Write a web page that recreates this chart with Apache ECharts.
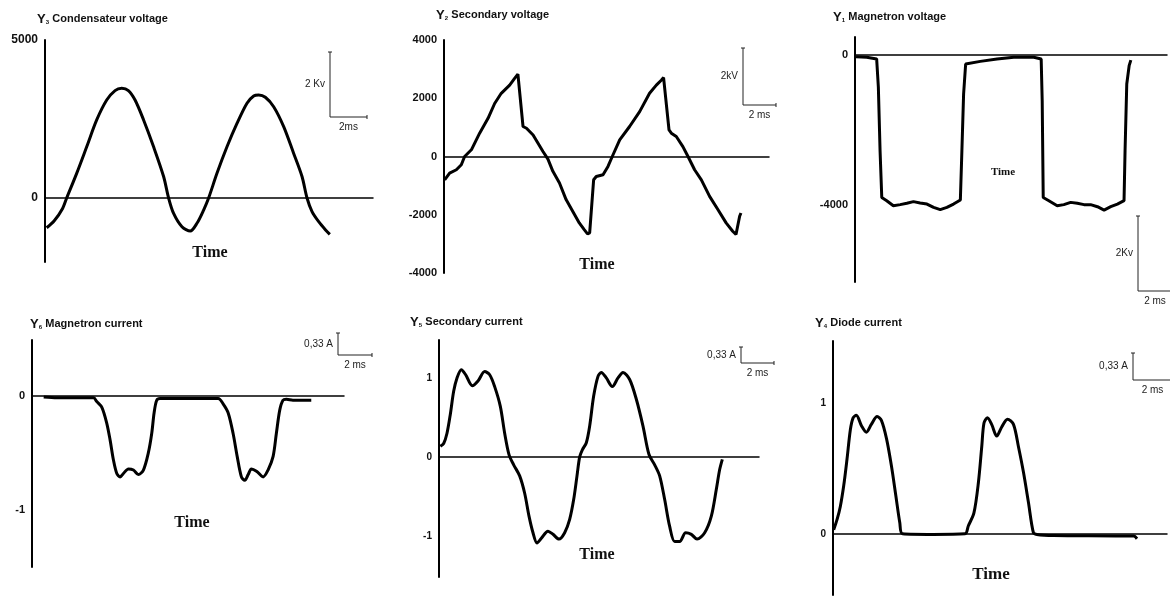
<!DOCTYPE html>
<html>
<head>
<meta charset="utf-8">
<script src="https://cdn.jsdelivr.net/npm/echarts@6/dist/echarts.min.js"></script>
<style>
html, body { margin: 0; padding: 0; background: #fff; }
#chart { width: 1170px; height: 596px; }
</style>
</head>
<body>
<div id="chart"></div>
<script>
// time in ms, values in V or A
const condensateurVoltage = [[0.09,-940],[0.5,-720],[0.95,-330],[1.17,0],[1.71,780],[2.25,1620],[2.79,2470],[3.33,3100],[3.78,3400],[4.14,3470],[4.5,3400],[4.86,3100],[5.32,2470],[5.86,1620],[6.4,680],[6.67,0],[6.94,-490],[7.39,-910],[7.84,-1045],[8.2,-800],[8.56,-380],[8.83,0],[9.28,780],[9.82,1620],[10.36,2360],[10.9,3000],[11.26,3230],[11.53,3260],[11.89,3190],[12.34,2890],[12.88,2260],[13.42,1410],[13.87,680],[14.14,0],[14.41,-430],[14.77,-750],[15.14,-1010],[15.37,-1150]];

const secondaryVoltage = [[0.04,-800],[0.34,-570],[0.75,-455],[1.05,-285],[1.25,0],[1.66,230],[2.16,800],[2.67,1310],[3.07,1820],[3.47,2170],[3.98,2450],[4.28,2680],[4.48,2830],[4.59,2850],[4.79,1030],[5.0,970],[5.4,740],[5.7,455],[6.0,170],[6.3,-90],[6.6,-510],[7.0,-910],[7.4,-1480],[7.8,-1880],[8.2,-2280],[8.5,-2510],[8.7,-2655],[8.83,-2620],[9.07,-800],[9.23,-685],[9.64,-625],[9.94,-340],[10.2,0],[10.65,570],[11.25,1030],[11.86,1540],[12.46,2170],[12.87,2450],[13.17,2620],[13.31,2710],[13.64,910],[13.78,800],[14.08,685],[14.48,340],[14.79,0],[15.19,-455],[15.6,-800],[16.1,-1370],[16.6,-1820],[17.1,-2280],[17.5,-2565],[17.7,-2680],[17.82,-2620],[17.92,-2050],[18.0,-1940]];

const magnetronVoltage = [[0.06,-45],[0.69,-60],[1.27,-105],[1.37,-860],[1.47,-2550],[1.57,-3800],[1.86,-3885],[2.25,-4020],[2.65,-3990],[3.04,-3955],[3.43,-3910],[3.82,-3945],[4.22,-3975],[4.61,-4065],[5.0,-4125],[5.39,-4065],[5.78,-3975],[6.18,-3865],[6.27,-2550],[6.37,-1040],[6.49,-240],[7.35,-170],[8.33,-105],[9.31,-60],[10.49,-60],[10.92,-105],[10.98,-1220],[11.04,-3800],[11.37,-3885],[11.86,-4020],[12.25,-3990],[12.65,-3930],[13.04,-3955],[13.43,-3990],[13.82,-3990],[14.22,-4045],[14.61,-4135],[15.0,-4045],[15.39,-3975],[15.78,-3885],[15.84,-2550],[15.94,-775],[16.08,-285],[16.18,-135]];

const magnetronCurrent = [[0.69,-0.01],[1.47,-0.017],[3.63,-0.017],[3.82,-0.05],[4.12,-0.1],[4.41,-0.24],[4.61,-0.39],[4.8,-0.56],[5.0,-0.68],[5.2,-0.71],[5.39,-0.68],[5.69,-0.64],[5.98,-0.65],[6.27,-0.69],[6.57,-0.65],[6.86,-0.5],[7.06,-0.33],[7.2,-0.15],[7.35,-0.04],[7.55,-0.023],[9.12,-0.023],[10.98,-0.023],[11.27,-0.07],[11.57,-0.15],[11.86,-0.33],[12.1,-0.53],[12.35,-0.71],[12.55,-0.74],[12.75,-0.69],[12.94,-0.64],[13.24,-0.66],[13.63,-0.71],[13.92,-0.65],[14.22,-0.53],[14.41,-0.33],[14.61,-0.125],[14.8,-0.038],[15.0,-0.03],[15.39,-0.038],[16.47,-0.038]];

const secondaryCurrent = [[0.08,0.135],[0.28,0.17],[0.48,0.3],[0.68,0.54],[0.88,0.83],[1.08,1.0],[1.34,1.105],[1.6,1.04],[2.0,0.9],[2.34,0.96],[2.74,1.08],[3.04,1.04],[3.34,0.89],[3.68,0.64],[3.94,0.3],[4.2,0.03],[4.48,-0.1],[4.84,-0.24],[5.14,-0.46],[5.4,-0.75],[5.64,-0.96],[5.88,-1.09],[6.14,-1.03],[6.54,-0.94],[6.84,-0.98],[7.2,-1.04],[7.54,-0.96],[7.84,-0.79],[8.08,-0.54],[8.28,-0.24],[8.44,0],[8.6,0.09],[8.84,0.18],[9.04,0.39],[9.28,0.77],[9.54,1.02],[9.74,1.07],[10.04,1.0],[10.4,0.89],[10.74,1.0],[11.04,1.07],[11.44,0.98],[11.84,0.73],[12.24,0.39],[12.6,0.03],[12.94,-0.1],[13.24,-0.24],[13.54,-0.54],[13.84,-0.88],[14.14,-1.07],[14.44,-1.07],[14.8,-0.96],[15.14,-0.98],[15.48,-1.04],[15.94,-0.96],[16.34,-0.75],[16.64,-0.41],[16.84,-0.16],[17.0,-0.03]];

const diodeCurrent = [[0.04,0.03],[0.24,0.11],[0.43,0.21],[0.63,0.37],[0.82,0.57],[1.02,0.8],[1.18,0.89],[1.37,0.91],[1.67,0.83],[1.96,0.78],[2.25,0.84],[2.59,0.9],[2.84,0.87],[3.14,0.73],[3.43,0.52],[3.69,0.29],[3.92,0.085],[4.08,0],[5.88,-0.005],[7.75,0],[7.94,0.06],[8.27,0.16],[8.53,0.39],[8.73,0.67],[8.86,0.85],[9.06,0.89],[9.31,0.84],[9.61,0.75],[9.9,0.82],[10.24,0.88],[10.59,0.84],[10.88,0.67],[11.18,0.47],[11.47,0.24],[11.76,0.008],[11.96,-0.005],[12.94,-0.013],[17.65,-0.018],[17.84,-0.038]];

// tick labels shown on each y axis
const condTicks = [0, 5000];
const secVoltTicks = [-4000, -2000, 0, 2000, 4000];
const magVoltTicks = [0, -4000];
const magCurTicks = [0, -1];
const secCurTicks = [-1, 0, 1];
const diodeTicks = [0, 1];

const sans = '"Liberation Sans", Arial, sans-serif';
const serif = '"Liberation Serif", "Times New Roman", serif';

let panels = [
  { data: condensateurVoltage, ticks: condTicks, grid: { left: 45, top: 40, width: 328, height: 222 }, x: 17.7, y: [-2025, 5000], smooth: 0.3, fs: 12 },
  { data: secondaryVoltage, ticks: secVoltTicks, grid: { left: 444, top: 40, width: 325, height: 233 }, x: 19.7, y: [-4000, 4000], smooth: false, fs: 11 },
  { data: magnetronVoltage, ticks: magVoltTicks, grid: { left: 855, top: 37, width: 312, height: 245 }, x: 18.3, y: [-6053, 480], smooth: false, fs: 11 },
  { data: magnetronCurrent, ticks: magCurTicks, grid: { left: 32, top: 340, width: 312, height: 227 }, x: 18.4, y: [-1.5, 0.49], smooth: 0.3, fs: 11 },
  { data: secondaryCurrent, ticks: secCurTicks, grid: { left: 439, top: 340, width: 320, height: 237 }, x: 19.2, y: [-1.52, 1.48], smooth: 0.3, fs: 10 },
  { data: diodeCurrent, ticks: diodeTicks, grid: { left: 833, top: 341, width: 334, height: 254 }, x: 19.6, y: [-0.47, 1.48], smooth: 0.3, fs: 10 },
];

// panel titles: Y + subscript + name
const titles = [
  { x: 37, y: 19, n: '3', t: 'Condensateur voltage' },
  { x: 436, y: 15, n: '2', t: 'Secondary voltage' },
  { x: 833, y: 17, n: '1', t: 'Magnetron voltage' },
  { x: 30, y: 324, n: '6', t: 'Magnetron current' },
  { x: 410, y: 322, n: '5', t: 'Secondary current' },
  { x: 815, y: 323, n: '4', t: 'Diode current' },
];

// "Time" captions
const timeLabels = [
  { x: 210, y: 253, fs: 16 },
  { x: 597, y: 265, fs: 16 },
  { x: 1003, y: 172, fs: 11 },
  { x: 192, y: 523, fs: 16 },
  { x: 597, y: 555, fs: 16 },
  { x: 991, y: 575, fs: 17 },
];

// scale bars: x, top, bottom, right end, labels
const scaleBars = [
  [330, 52, 117, 367, '2 Kv', '2ms'],
  [743, 48, 105, 776, '2kV', '2 ms'],
  [1138, 216, 291, 1172, '2Kv', '2 ms'],
  [338, 333, 355, 372, '0,33 A', '2 ms'],
  [741, 347, 363, 774, '0,33 A', '2 ms'],
  [1133, 353, 380, 1172, '0,33 A', '2 ms'],
];

const scaleBar = ([x, y1, y2, x2, vText, hText]) => {
  let st = { stroke: '#222', lineWidth: 1 };
  let txt = { fill: '#222', fontSize: 10, fontFamily: sans };
  return [
    { type: 'line', shape: { x1: x, y1: y1, x2: x, y2: y2 }, style: st },
    { type: 'line', shape: { x1: x - 2, y1: y1, x2: x + 2, y2: y1 }, style: st },
    { type: 'line', shape: { x1: x, y1: y2, x2: x2, y2: y2 }, style: st },
    { type: 'line', shape: { x1: x2, y1: y2 - 2, x2: x2, y2: y2 + 2 }, style: st },
    { type: 'text', style: Object.assign({ text: vText, x: x - 5, y: (y1 + y2) / 2, align: 'right', verticalAlign: 'middle' }, txt) },
    { type: 'text', style: Object.assign({ text: hText, x: (x + x2) / 2, y: y2 + 10, align: 'center', verticalAlign: 'middle' }, txt) },
  ];
};

let graphic = [];
titles.forEach(t => {
  graphic.push({
    type: 'text',
    style: {
      text: '{y|Y}{s|' + t.n + '} {t|' + t.t + '}',
      x: t.x, y: t.y, verticalAlign: 'middle',
      rich: {
        y: { fontSize: 13, fontWeight: 'bold', fontFamily: sans, fill: '#111' },
        s: { fontSize: 6, fontWeight: 'bold', fontFamily: sans, fill: '#111', verticalAlign: 'bottom', padding: [6, 0, 0, 0] },
        t: { fontSize: 11, fontWeight: 'bold', fontFamily: sans, fill: '#111' },
      },
    },
  });
});
timeLabels.forEach(l => {
  graphic.push({
    type: 'text',
    style: { text: 'Time', x: l.x, y: l.y, align: 'center', verticalAlign: 'middle', fontSize: l.fs, fontWeight: 'bold', fontFamily: serif, fill: '#111' },
  });
});
scaleBars.forEach(b => { graphic = graphic.concat(scaleBar(b)); });

let option = {
  backgroundColor: '#fff',
  animation: false,
  grid: panels.map(p => p.grid),
  xAxis: panels.map((p, i) => ({
    type: 'value', gridIndex: i, min: 0, max: p.x,
    axisLine: { onZero: true, lineStyle: { color: '#000', width: 1.5 } },
    axisTick: { show: false }, axisLabel: { show: false }, splitLine: { show: false },
  })),
  yAxis: panels.map((p, i) => ({
    type: 'value', gridIndex: i, min: p.y[0], max: p.y[1],
    axisLine: { show: true, lineStyle: { color: '#000', width: 2 } },
    axisTick: { show: false },
    splitLine: { show: false },
    axisLabel: {
      customValues: p.ticks, color: '#111', fontWeight: 'bold', fontSize: p.fs, fontFamily: sans, margin: 7,
      formatter: v => String(v), // no thousands separator
    },
  })),
  series: panels.map((p, i) => ({
    type: 'line', xAxisIndex: i, yAxisIndex: i,
    data: p.data, smooth: p.smooth, showSymbol: false,
    lineStyle: { color: '#000', width: 3 },
  })),
  graphic: graphic,
};

let chart = echarts.init(document.getElementById('chart'));
chart.setOption(option);
</script>
</body>
</html>
